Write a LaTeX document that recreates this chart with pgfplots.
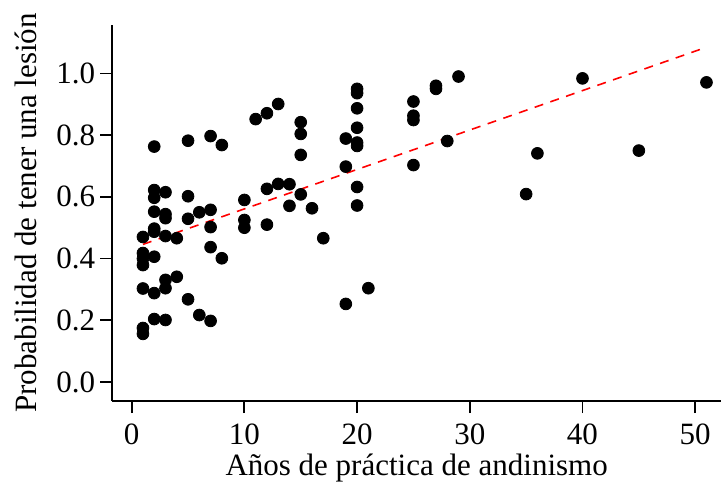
\documentclass[border=0pt]{standalone}
\usepackage{fontspec}
\setmainfont{Liberation Serif}
\usepackage{pgfplots}
\pgfplotsset{compat=1.18}

\pgfplotstableread{
x y
1 0.470
1 0.418
1 0.400
1 0.379
1 0.303
1 0.175
1 0.156
2 0.763
2 0.622
2 0.597
2 0.552
2 0.497
2 0.487
2 0.406
2 0.288
2 0.204
3 0.615
3 0.544
3 0.531
3 0.473
3 0.331
3 0.304
3 0.201
4 0.466
4 0.341
5 0.782
5 0.602
5 0.529
5 0.268
6 0.550
6 0.217
7 0.797
7 0.558
7 0.502
7 0.437
7 0.198
8 0.768
8 0.401
10 0.590
10 0.525
10 0.500
11 0.852
12 0.871
12 0.626
12 0.510
13 0.901
13 0.642
14 0.641
14 0.571
15 0.842
15 0.804
15 0.736
15 0.608
16 0.563
17 0.466
19 0.789
19 0.698
19 0.253
20 0.950
20 0.936
20 0.887
20 0.824
20 0.776
20 0.765
20 0.632
20 0.572
21 0.304
25 0.909
25 0.863
25 0.849
25 0.703
27 0.960
27 0.950
28 0.781
29 0.990
35 0.609
36 0.741
40 0.984
45 0.750
51 0.971
}\puntos

\begin{document}
\begin{tikzpicture}
\begin{axis}[
  scale only axis, width=304.35pt, height=188pt,
  xmin=-1.72, xmax=52.29, ymin=-0.0616, ymax=1.157,
  axis x line=bottom, axis y line=left,
  axis line style={-, line width=0.9pt},
  tick style={black, line width=0.9pt},
  tick align=outside, major tick length=6pt,
  xtick={0,10,...,50}, ytick={0,0.2,...,1.0},
  font=\fontsize{15.5}{18}\selectfont,
  /pgf/number format/assume math mode=true,
  yticklabel style={xshift=1pt, /pgf/number format/.cd, fixed, fixed zerofill, precision=1},
  xticklabel style={yshift=-2pt},
  xlabel={Años de práctica de andinismo},
  ylabel={Probabilidad de tener una lesión},
  xlabel style={yshift=2.5pt},
  ylabel style={yshift=3pt},
  clip=false,
]
\coordinate (bl) at (rel axis cs:0,0);
\coordinate (tr) at (rel axis cs:1,1);
\addplot[only marks, mark=*, mark size=2.95pt, black] table {\puntos};
\addplot[red, line width=0.8pt, dash pattern=on 4.5pt off 3.8pt]
  coordinates {(1,0.446) (51,1.085)};
\end{axis}
\pgfresetboundingbox
\path ([xshift=-56.15pt,yshift=-40.5pt]bl) rectangle ([yshift=12.5pt]tr);
\end{tikzpicture}
\end{document}
